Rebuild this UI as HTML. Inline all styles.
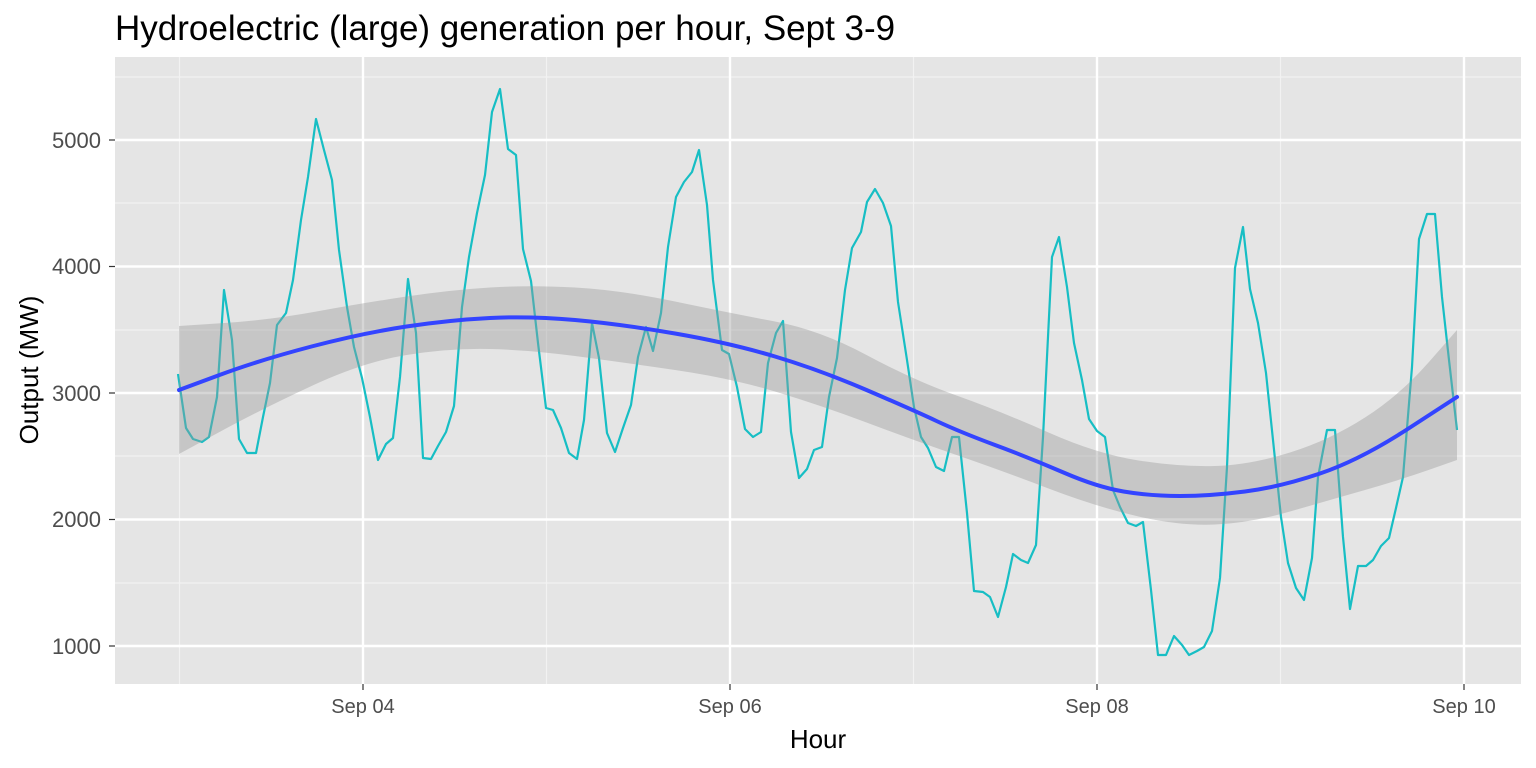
<!DOCTYPE html>
<html><head><meta charset="utf-8"><style>body{margin:0;background:#fff}svg{display:block;font-family:"Liberation Sans",sans-serif}</style></head><body>
<svg width="1536" height="768" viewBox="0 0 1536 768">
<rect width="1536" height="768" fill="#fff"/>
<text x="115" y="40" font-size="35" fill="#000">Hydroelectric (large) generation per hour, Sept 3-9</text>
<rect x="115" y="57" width="1406" height="627" fill="#e5e5e5"/>
<g stroke="#f2f2f2" stroke-width="1.2">
<line x1="115" x2="1521" y1="583" y2="583"/><line x1="115" x2="1521" y1="456" y2="456"/><line x1="115" x2="1521" y1="330" y2="330"/><line x1="115" x2="1521" y1="203" y2="203"/><line x1="115" x2="1521" y1="77" y2="77"/>
<line y1="57" y2="684" x1="179.5" x2="179.5"/><line y1="57" y2="684" x1="546.5" x2="546.5"/><line y1="57" y2="684" x1="913.5" x2="913.5"/><line y1="57" y2="684" x1="1280.5" x2="1280.5"/>
</g>
<g stroke="#fff" stroke-width="2.4">
<line x1="115" x2="1521" y1="646" y2="646"/><line x1="115" x2="1521" y1="519.5" y2="519.5"/><line x1="115" x2="1521" y1="393" y2="393"/><line x1="115" x2="1521" y1="266.5" y2="266.5"/><line x1="115" x2="1521" y1="140" y2="140"/>
<line y1="57" y2="684" x1="363" x2="363"/><line y1="57" y2="684" x1="730" x2="730"/><line y1="57" y2="684" x1="1097" x2="1097"/><line y1="57" y2="684" x1="1464" x2="1464"/>
</g>
<polyline fill="none" stroke="#17bec4" stroke-width="2.2" stroke-linejoin="round" points="178,374 186,428 193,439 202,442 209,437 217,397 224,290 232,340 239,439 247,453 256,453 263,417 270,383 277,325 286,313 293,280 301,220 308,177 316,119 324,150 332,180 339,250 347,307 354,347 362,378 370,417 378,460 386,444 393,438 400,377 408,279 416,333 423,458 431,459 438,446 446,432 454,406 462,307 469,257 477,213 485,175 492,112 500,89 508,149 516,155 523,249 531,281 538,343 546,408 553,410 561,428 569,453 577,459 584,420 592,323 599,358 607,433 615,452 623,428 631,405 638,357 646,327 653,351 661,313 668,247 676,197 684,182 692,172 699,150 707,205 713,280 722,350 729,354 737,387 745,429 753,437 761,432 768,363 776,333 783,321 791,432 799,478 807,469 814,450 822,447 829,397 837,358 845,290 852,248 861,232 867,202 875,189 883,203 891,226 898,302 907,360 914,407 921,437 928,448 936,467 944,471 952,437 959,437 967,513 974,591 983,592 990,597 998,617 1006,587 1013,554 1021,560 1028,563 1036,545 1043,437 1052,257 1059,237 1067,287 1074,343 1082,380 1089,419 1097,431 1105,437 1113,490 1120,507 1128,523 1136,526 1143,522 1151,590 1158,655 1166,655 1174,636 1182,645 1189,655 1197,651 1204,647 1212,631 1220,578 1227,467 1235,268 1243,227 1250,289 1258,323 1266,373 1273,440 1281,517 1288,563 1296,588 1304,600 1312,558 1318,477 1327,430 1335,430 1343,537 1350,609 1358,566 1366,566 1373,560 1381,546 1389,538 1396,508 1403,477 1412,367 1419,239 1427,214 1435,214 1442,297 1449,360 1457,430"/>
<path fill="#999" fill-opacity="0.4" d="M179,326 L224.5,323 Q270,320 316.5,311.5 Q363,303 406.5,296.5 Q450,290 490,287.5 Q530,285 575,287.5 Q620,290 675,301.5 Q730,313 775,321.5 Q820,330 866.5,355 Q913,380 956.5,395.5 Q1000,411 1048.5,432.5 Q1097,454 1138.5,460.5 Q1180,467 1215,466 Q1250,465 1290,452.5 Q1330,440 1365,417.5 Q1400,395 1428.5,362.5 L1457,330 L1457,460 L1428.5,470 Q1400,480 1365,490 Q1330,500 1290,511.5 Q1250,523 1215,524.5 Q1180,526 1138.5,516.5 Q1097,507 1048.5,488.5 Q1000,470 956.5,455 Q913,440 866.5,422.5 Q820,405 775,391.5 Q730,378 675,370 Q620,362 575,356 Q530,350 490,349 Q450,348 406.5,355 Q363,362 311.5,386 Q260,410 219.5,432 L179,454 Z"/>
<path fill="none" stroke="#3344ff" stroke-width="4" stroke-linecap="round" d="M179,390 L219.5,375 Q260,360 311.5,346.5 Q363,333 406.5,326.5 Q450,320 490,318 Q530,316 575,320 Q620,324 675,333.5 Q730,343 775,356.5 Q820,370 866.5,390 Q913,410 936.5,421 Q960,432 995,445 Q1030,458 1063.5,472.5 Q1097,487 1123.5,491.5 Q1150,496 1180,496 Q1210,496 1245,491.5 Q1280,487 1320,473.5 Q1360,460 1408.5,428.5 L1457,397"/>
<g font-size="22" fill="#4d4d4d" text-anchor="end">
<text x="101" y="654">1000</text><text x="101" y="527">2000</text><text x="101" y="401">3000</text><text x="101" y="274">4000</text><text x="101" y="148">5000</text>
</g>
<g stroke="#333" stroke-width="1.2">
<line x1="109" x2="115" y1="646" y2="646"/><line x1="109" x2="115" y1="519.5" y2="519.5"/><line x1="109" x2="115" y1="393" y2="393"/><line x1="109" x2="115" y1="266.5" y2="266.5"/><line x1="109" x2="115" y1="140" y2="140"/>
<line y1="684" y2="690" x1="363" x2="363"/><line y1="684" y2="690" x1="730" x2="730"/><line y1="684" y2="690" x1="1097" x2="1097"/><line y1="684" y2="690" x1="1464" x2="1464"/>
</g>
<g font-size="20" fill="#4d4d4d" text-anchor="middle">
<text x="363" y="713">Sep 04</text><text x="730" y="713">Sep 06</text><text x="1097" y="713">Sep 08</text><text x="1464" y="713">Sep 10</text>
</g>
<text x="818" y="748" font-size="26" text-anchor="middle" fill="#000">Hour</text>
<text transform="translate(38,370) rotate(-90)" font-size="26" text-anchor="middle" fill="#000">Output (MW)</text>
</svg>
</body></html>
